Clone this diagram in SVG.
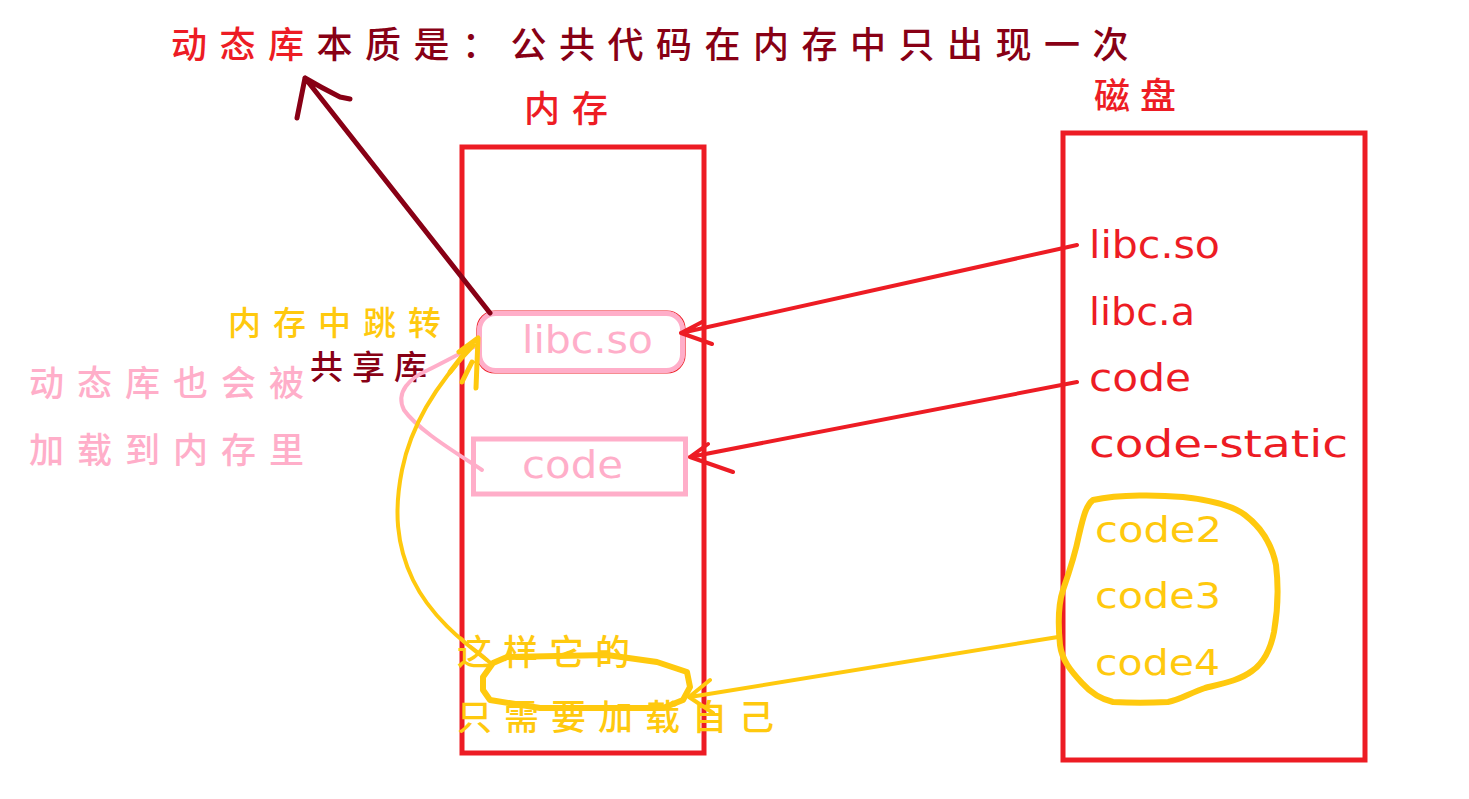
<svg xmlns="http://www.w3.org/2000/svg" width="1469" height="799" viewBox="0 0 1469 799">
<style>
.cjk{font-family:"Noto Sans CJK SC","Noto Sans",sans-serif;font-weight:500;}
.lat{font-family:"DejaVu Sans","Liberation Sans",sans-serif;}
.box{fill:none;stroke:#ed1c24;stroke-width:5;}
.pk{fill:none;stroke:#ffaec9;stroke-width:5;}
.ln{fill:none;stroke-linecap:round;stroke-linejoin:round;}
.red{stroke:#ed1c24;stroke-width:4;}
.yel{stroke:#ffc90e;stroke-width:4;}
.drk{stroke:#880015;stroke-width:5;}
</style>
<rect width="1469" height="799" fill="#ffffff"/>

<g id="title">
<text class="cjk" x="171" y="58" font-size="36" letter-spacing="12.5" fill="#880015"><tspan fill="#ed1c24">动态库</tspan>本质是：公共代码在内存中只出现一次</text>
</g>

<g id="memory">
<rect class="box" x="462" y="147" width="242" height="606"/>
<text class="cjk" x="524" y="122" font-size="36" letter-spacing="12" fill="#ed1c24">内存</text>
</g>

<g id="disk">
<rect class="box" x="1063" y="133" width="302" height="627"/>
<text class="cjk" x="1094" y="109" font-size="36" letter-spacing="10" fill="#ed1c24">磁盘</text>
<g class="lat" font-size="37" fill="#ed1c24">
<text x="1089" y="258" textLength="131" lengthAdjust="spacingAndGlyphs">libc.so</text>
<text x="1089" y="325" textLength="106" lengthAdjust="spacingAndGlyphs">libc.a</text>
<text x="1089" y="391" textLength="102" lengthAdjust="spacingAndGlyphs">code</text>
<text x="1089" y="457" textLength="259" lengthAdjust="spacingAndGlyphs">code-static</text>
</g>
<g class="lat" font-size="36" fill="#ffc90e">
<text x="1095" y="542" textLength="127" lengthAdjust="spacingAndGlyphs">code2</text>
<text x="1095" y="608" textLength="126" lengthAdjust="spacingAndGlyphs">code3</text>
<text x="1095" y="675" textLength="125" lengthAdjust="spacingAndGlyphs">code4</text>
</g>
<path class="ln" stroke="#ffc90e" stroke-width="6" d="M1093,500 C1120,494 1160,495 1183,497 C1210,500 1232,505 1245,515 C1262,528 1272,545 1276,565 C1279,590 1277,615 1274,632 C1270,652 1262,664 1252,671 C1240,680 1225,683 1205,688 C1190,693 1180,700 1168,702 C1150,703 1130,703 1113,702 C1100,699 1090,692 1082,683 C1070,670 1062,660 1060,645 C1058,625 1058,605 1063,590 C1070,570 1075,555 1079,535 C1083,518 1086,505 1093,500 Z"/>
</g>

<g id="node-libc-so">
<rect x="477" y="311" width="208" height="62" rx="18" fill="none" stroke="#ed1c24" stroke-width="1.2"/>
<rect class="pk" x="479.5" y="313.5" width="203" height="57" rx="16"/>
<text class="lat" x="522" y="353" font-size="37" fill="#ffaec9" textLength="131" lengthAdjust="spacingAndGlyphs">libc.so</text>
</g>

<g id="node-code">
<rect class="pk" x="473.5" y="439" width="212" height="55"/>
<text class="lat" x="522" y="478" font-size="37" fill="#ffaec9" textLength="101" lengthAdjust="spacingAndGlyphs">code</text>
</g>

<g id="node-yellow-oval">
<polygon class="ln" stroke="#ffc90e" stroke-width="6" points="493,663 507,657 607,655 657,662 687,672 690,687 683,700 663,708 540,708 490,700 483,690 483,677"/>
</g>

<g id="labels">
<text class="cjk" x="228" y="335" font-size="33" letter-spacing="12" fill="#ffc90e">内存中跳转</text>
<text class="cjk" x="310" y="379" font-size="33" letter-spacing="9" fill="#880015">共享库</text>
<text class="cjk" x="29" y="396" font-size="35" letter-spacing="13" fill="#ffaec9">动态库也会被</text>
<text class="cjk" x="29" y="463" font-size="35" letter-spacing="13" fill="#ffaec9">加载到内存里</text>
<text class="cjk" x="457" y="665" font-size="35" letter-spacing="11" fill="#ffc90e">这样它的</text>
<text class="cjk" x="457" y="730" font-size="35" letter-spacing="12" fill="#ffc90e">只需要加载自己</text>
</g>

<g id="connectors">
<path class="ln red" d="M1077,245 L681,333 M704,321 L681,333 L712,344"/>
<path class="ln red" d="M1077,382 L690,457 M708,444 L690,457 L733,472"/>
<path class="ln yel" d="M1058,637 L690,697 M710,680 L689,697 L713,713"/>
<path class="ln drk" d="M490,313 L305,78 M297,118 L305,78 Q322,88 340,97 L350,99"/>
<path class="ln" stroke="#ffaec9" stroke-width="4" d="M482,470 C455,452 418,430 404,410 C395,392 410,378 428,370 C448,360 462,352 474,347"/>
<path class="ln yel" d="M492,664 C460,640 430,615 413,580 C396,545 394,510 402,470 C412,420 440,380 474,345"/>
<path class="ln" stroke="#ffc90e" stroke-width="5" d="M459,352 L478,338 L476,388 M450,372 L470,346 M462,382 L472,362"/>
</g>
</svg>
